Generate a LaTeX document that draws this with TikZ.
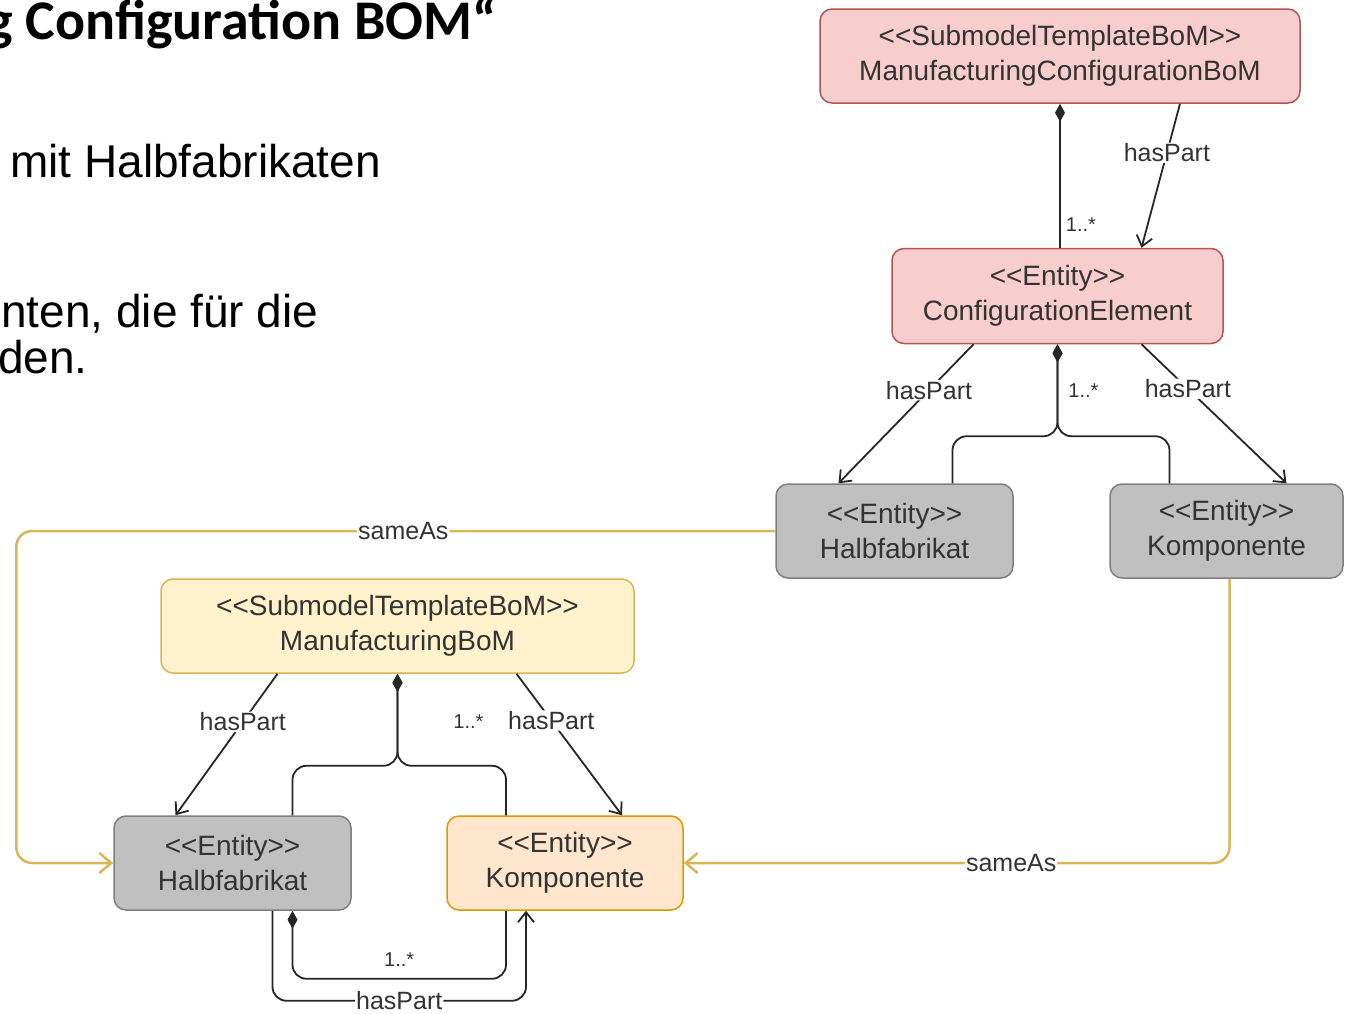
\documentclass[tikz,border=0pt]{standalone}
\usepackage{fontspec}
\setmainfont{Liberation Sans}
\newfontfamily\titlefont{Carlito}
\usetikzlibrary{arrows.meta}

\definecolor{pinkfill}{HTML}{F8CECC}
\definecolor{pinkline}{HTML}{B85450}
\definecolor{yellowfill}{HTML}{FFF2CC}
\definecolor{yellowline}{HTML}{D6B656}
\definecolor{orangefill}{HTML}{FFE6CC}
\definecolor{orangeline}{HTML}{D79B00}
\definecolor{grayfill}{HTML}{C0C0C0}
\definecolor{grayline}{HTML}{7F7F7F}
\definecolor{txtgray}{HTML}{333333}
\definecolor{edgecol}{HTML}{262626}
\definecolor{goldline}{HTML}{D6B656}

\newcommand\stereo[1]{<\kern0pt<#1>\kern0pt>}

\begin{document}
\begin{tikzpicture}[x=1pt,y=-1pt,
  box/.style={draw, line width=1.5pt, rounded corners=12pt, align=center, inner sep=0pt,
    text=txtgray, font=\fontsize{28}{35}\selectfont},
  slide/.style={inner sep=0pt, anchor=base west, font=\fontsize{46}{55}\selectfont},
  edge/.style={draw=edgecol, line width=1.8pt, rounded corners=14pt},
  haspart/.style={edge, -{Straight Barb[length=10pt,width=16pt]}},
  comp/.style={edge, {Diamond[length=18pt,width=10pt]}-},
  sameas/.style={draw=goldline, line width=2.5pt, rounded corners=16pt, -{Straight Barb[length=12pt,width=20pt]}},
  lbl/.style={fill=white, text=txtgray, inner sep=1pt, font=\fontsize{25}{30}\selectfont},
  mult/.style={text=txtgray, inner sep=0pt, font=\fontsize{20}{24}\selectfont}]

\useasboundingbox (0,0) rectangle (1345,1013);

% slide text:
\node[inner sep=0pt, anchor=base east, font=\titlefont\bfseries\fontsize{56}{64}\selectfont] (title) at (497,39) {g Configuration BOM“};
\node[slide] (line1) at (10,177) {mit Halbfabrikaten};
\node[slide] (line2) at (1,327) {nten, die für die};
\node[slide] (line3) at (-2,373) {den.};

% boxes:
\node[box, fill=pinkfill, draw=pinkline, minimum width=480pt, minimum height=94pt] (mcbom) at (1060,56) {\stereo{SubmodelTemplateBoM}\\ManufacturingConfigurationBoM};
\node[box, fill=pinkfill, draw=pinkline, minimum width=331pt, minimum height=95pt] (ce) at (1057.5,296) {\stereo{Entity}\\ConfigurationElement};
\node[box, fill=grayfill, draw=grayline, minimum width=237pt, minimum height=94pt] (halbA) at (894.5,531) {\stereo{Entity}\\Halbfabrikat};
\node[box, fill=grayfill, draw=grayline, minimum width=233pt, minimum height=94pt] (kompA) at (1226.5,531) {\stereo{Entity}\\Komponente};
\node[box, fill=yellowfill, draw=yellowline, minimum width=473pt, minimum height=94pt] (mbom) at (397.5,626) {\stereo{SubmodelTemplateBoM}\\ManufacturingBoM};
\node[box, fill=grayfill, draw=grayline, minimum width=237pt, minimum height=94pt] (halbB) at (232.5,863) {\stereo{Entity}\\Halbfabrikat};
\node[box, fill=orangefill, draw=orangeline, minimum width=236pt, minimum height=94pt] (kompB) at (565,863) {\stereo{Entity}\\Komponente};

% connectors, configuration side:
\draw[comp] (mcbom.south) -- node[mult, pos=0.84, right=5pt] (m1) {1..*} (mcbom.south |- ce.north);
\draw[haspart] ([xshift=120pt]mcbom.south) -- node[lbl, pos=0.34] (h1) {hasPart} ([xshift=84pt]ce.north);
\draw[haspart] ([xshift=-84pt]ce.south) -- node[lbl, pos=0.33] (h2) {hasPart} ([xshift=-56pt]halbA.north);
\draw[haspart] ([xshift=84pt]ce.south) -- node[lbl, pos=0.32] (h3) {hasPart} ([xshift=60pt]kompA.north);
\draw[comp] (ce.south) -- node[mult, right=10pt] (m2) {1..*} ++(0,92) -| ([xshift=58pt]halbA.north);
\draw[comp] (ce.south) -- ++(0,92) -| ([xshift=-57pt]kompA.north);

% connectors, manufacturing side:
\draw[comp] (mbom.south) -- node[mult, pos=0.52, right=55pt] (m3) {1..*} ++(0,92) -| ([xshift=60pt]halbB.north);
\draw[comp] (mbom.south) -- ++(0,92) -| ([xshift=-59pt]kompB.north);
\draw[haspart] ([xshift=-120pt]mbom.south) -- node[lbl, pos=0.34] (h4) {hasPart} ([xshift=-57pt]halbB.north);
\draw[haspart] ([xshift=119pt]mbom.south) -- node[lbl, pos=0.33] (h5) {hasPart} ([xshift=57pt]kompB.north);
\draw[comp] ([xshift=60pt]halbB.south) -- ++(0,68) -| node[mult, pos=0.25, above=11pt] (m4) {1..*} ([xshift=-59pt]kompB.south);
\draw[haspart] ([xshift=40pt]halbB.south) -- ++(0,90) -| node[lbl, pos=0.25] (h6) {hasPart} ([xshift=-39pt]kompB.south);

% sameAs links:
\draw[sameas] (halbA.west) -| node[lbl, pos=0.245] (s1) {sameAs} ([xshift=-97pt]halbB.west) -- (halbB.west);
\draw[sameas] ([xshift=3pt]kompA.south) |- node[lbl, pos=0.70] (s2) {sameAs} (kompB.east);

\end{tikzpicture}
\end{document}
